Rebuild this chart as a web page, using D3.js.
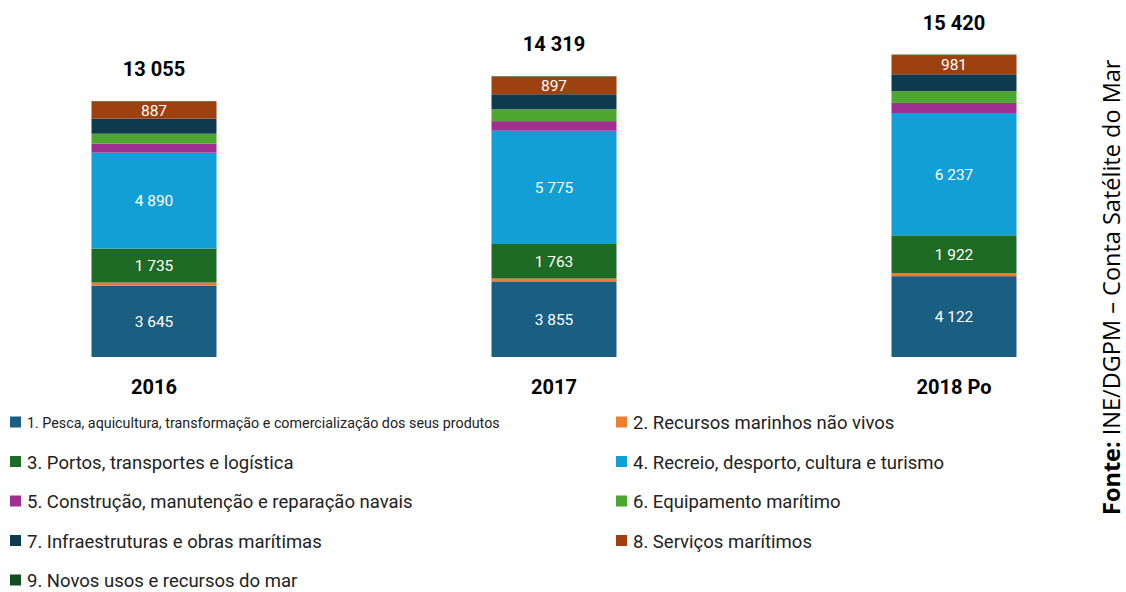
<!DOCTYPE html>
<html>
<head>
<meta charset="utf-8">
<script src="https://cdn.jsdelivr.net/npm/d3@7"></script>
<style>
  html, body { margin: 0; padding: 0; background: #fff; }
  svg { display: block; font-family: Roboto, "Noto Sans", sans-serif; }
</style>
</head>
<body>
<svg id="chart" width="1126" height="592"></svg>
<script>
// Years on the category axis
const years = ["2016", "2017", "2018 Po"];

// Series names (legend order)
const seriesNames = [
  "1. Pesca, aquicultura, transformação e comercialização dos seus produtos",
  "2. Recursos marinhos não vivos",
  "3. Portos, transportes e logística",
  "4. Recreio, desporto, cultura e turismo",
  "5. Construção, manutenção e reparação navais",
  "6. Equipamento marítimo",
  "7. Infraestruturas e obras marítimas",
  "8. Serviços marítimos",
  "9. Novos usos e recursos do mar"
];

// Values per series, one per year
const pesca        = [3645, 3855, 4122];
const recursos     = [150, 145, 160];
const portos       = [1735, 1763, 1922];
const recreio      = [4890, 5775, 6237];
const construcao   = [455, 490, 515];
const equipamento  = [510, 600, 600];
const infra        = [765, 770, 860];
const servicos     = [887, 897, 981];
const novosUsos    = [18, 24, 23];

// Totals shown above each bar
const totals = [13055, 14319, 15420];

// Which series get value labels inside the bar
const labelledSeries = [0, 2, 3, 7];

const colors = ["#1a5e82", "#ed7d31", "#1e6b26", "#129fd6", "#a0308f",
                "#4ea72e", "#0e3a50", "#9c410f", "#0f4f1e"];

const seriesValues = [pesca, recursos, portos, recreio, construcao,
                      equipamento, infra, servicos, novosUsos];

const table = years.map((y, i) => {
  const row = { year: y };
  seriesNames.forEach((s, k) => { row[s] = seriesValues[k][i]; });
  return row;
});

const fmt = v => d3.format(",")(v).replace(/,/g, " ");

const svg = d3.select("#chart");

const x = d3.scaleBand()
  .domain(years)
  .range([-46, 1154])
  .paddingInner(0.6875)
  .paddingOuter(0.34375);

const y = d3.scaleLinear()
  .domain([0, 15420])
  .range([357, 54.6]);

const stacked = d3.stack().keys(seriesNames)(table);

const layers = svg.append("g").selectAll("g")
  .data(stacked)
  .join("g")
  .attr("fill", (d, i) => colors[i]);

layers.selectAll("rect")
  .data(d => d)
  .join("rect")
  .attr("x", d => x(d.data.year))
  .attr("width", x.bandwidth())
  .attr("y", d => y(d[1]))
  .attr("height", d => y(d[0]) - y(d[1]));

// Segment value labels
stacked.forEach((layer, k) => {
  if (!labelledSeries.includes(k)) return;
  svg.append("g").selectAll("text")
    .data(layer)
    .join("text")
    .attr("x", d => x(d.data.year) + x.bandwidth() / 2)
    .attr("y", d => (y(d[0]) + y(d[1])) / 2)
    .attr("dy", "0.36em")
    .attr("text-anchor", "middle")
    .attr("fill", "#fff")
    .attr("font-size", 15.5)
    .text(d => fmt(d[1] - d[0]));
});

// Totals above bars
svg.append("g").selectAll("text")
  .data(years)
  .join("text")
  .attr("x", d => x(d) + x.bandwidth() / 2)
  .attr("y", (d, i) => y(totals[i]) - 32)
  .attr("dy", "0.36em")
  .attr("text-anchor", "middle")
  .attr("font-weight", "bold")
  .attr("font-size", 20)
  .attr("fill", "#000")
  .text((d, i) => fmt(totals[i]));

// Category axis labels
const xAxis = d3.axisBottom(x).tickSize(0).tickPadding(0);
const axisG = svg.append("g").attr("transform", "translate(0,380)").call(xAxis);
axisG.select(".domain").remove();
axisG.selectAll("text")
  .attr("font-family", "Roboto, sans-serif")
  .attr("font-size", 20)
  .attr("font-weight", "bold")
  .attr("fill", "#000");

// Legend in two columns
const legend = svg.append("g");
seriesNames.forEach((name, i) => {
  const col = i % 2, row = Math.floor(i / 2);
  const gx = col === 0 ? 10 : 616;
  const gy = 422.5 + row * 39.5;
  const g = legend.append("g").attr("transform", `translate(${gx},${gy})`);
  g.append("rect").attr("x", 0).attr("y", -6).attr("width", 11).attr("height", 11)
    .attr("fill", colors[i]);
  g.append("text").attr("x", 17).attr("y", 0).attr("dy", "0.36em")
    .attr("font-size", i === 0 ? 14.3 : 18.5)
    .attr("fill", "#222")
    .text(name);
});

// Source note, rotated
const src = svg.append("text")
  .attr("transform", "translate(1120,515) rotate(-90)")
  .attr("font-family", "'Open Sans', sans-serif")
  .attr("font-size", 23.5)
  .attr("fill", "#000");
src.append("tspan").attr("font-weight", "bold").text("Fonte:");
src.append("tspan").text(" INE/DGPM \u2013 Conta Satélite do Mar");
</script>
</body>
</html>
